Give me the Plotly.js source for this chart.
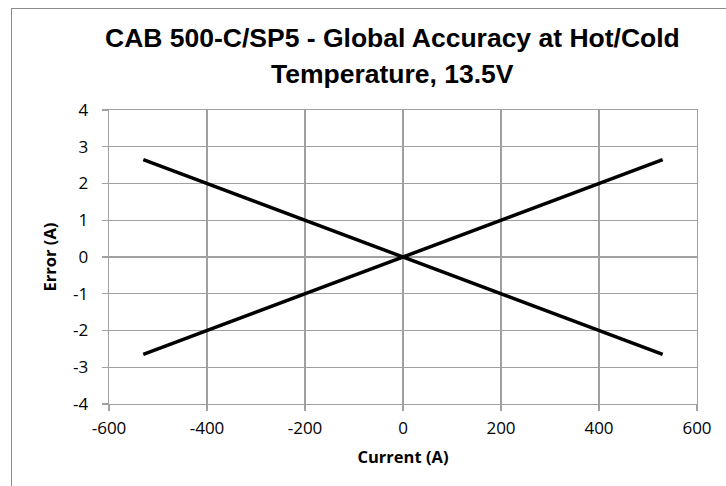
<!DOCTYPE html>
<html>
<head>
<meta charset="utf-8">
<script src="https://cdn.plot.ly/plotly-3.0.1.min.js"></script>
<style>
  html, body { margin: 0; padding: 0; background: #fff; }
  #wrap { position: relative; width: 726px; height: 486px; overflow: hidden; }
  #frame { position: absolute; left: 11px; top: 8px; width: 730px; height: 490px; border: 1px solid #8c8c8c; box-sizing: border-box; pointer-events: none; z-index: 5; }
  #chart { position: absolute; left: 0; top: 0; width: 726px; height: 486px; }
</style>
</head>
<body>
<div id="wrap">
  <div id="chart"></div>
  <div id="frame"></div>
</div>
<script>
// Data
const current = [-530, -400, -200, 0, 200, 400, 530];
const errorRising = [-2.65, -2, -1, 0, 1, 2, 2.65];
const errorFalling = [2.65, 2, 1, 0, -1, -2, -2.65];
const xTicks = [-600, -400, -200, 0, 200, 400, 600];
const yTicks = [-4, -3, -2, -1, 0, 1, 2, 3, 4];
const titleLine1 = "CAB 500-C/SP5 - Global Accuracy at Hot/Cold";
const titleLine2 = "Temperature, 13.5V";
const xTitle = "Current (A)";
const yTitle = "Error (A)";

const lineStyle = { color: "#000000", width: 3.5 };

const traces = [
  { x: current, y: errorRising, type: "scatter", mode: "lines", line: lineStyle, showlegend: false, hoverinfo: "skip" },
  { x: current, y: errorFalling, type: "scatter", mode: "lines", line: lineStyle, showlegend: false, hoverinfo: "skip" }
];

const gridColor = "#a0a0a0";
const tickFont = { family: "Open Sans, DejaVu Sans, sans-serif", size: 17, color: "#000000" };
const axisTitleFont = { family: "Open Sans, DejaVu Sans, sans-serif", size: 16.5, color: "#000000", weight: 700 };
const titleFont = { family: "Liberation Sans, Arial, sans-serif", size: 26.5, color: "#000000", weight: 700 };

const layout = {
  width: 726,
  height: 486,
  margin: { l: 109, r: 29, t: 110, b: 82, pad: 0 },
  paper_bgcolor: "#ffffff",
  plot_bgcolor: "#ffffff",
  showlegend: false,
  xaxis: {
    range: [-600, 600],
    tickvals: xTicks,
    ticktext: xTicks.map(String),
    showgrid: true,
    gridcolor: gridColor,
    gridwidth: 1.3,
    zeroline: false,
    showline: true,
    linecolor: gridColor,
    linewidth: 1.3,
    mirror: true,
    ticks: "outside",
    ticklen: 6,
    tickcolor: gridColor,
    tickwidth: 1.3,
    ticklabelstandoff: 2,
    tickfont: tickFont,
    title: { text: xTitle, font: axisTitleFont, standoff: 13 },
    fixedrange: true
  },
  yaxis: {
    range: [-4, 4],
    tickvals: yTicks,
    ticktext: yTicks.map(String),
    showgrid: true,
    gridcolor: gridColor,
    gridwidth: 1.3,
    zeroline: false,
    showline: true,
    linecolor: gridColor,
    linewidth: 1.3,
    mirror: true,
    ticks: "outside",
    ticklen: 6,
    tickcolor: gridColor,
    tickwidth: 1.3,
    ticklabelstandoff: 10,
    tickfont: tickFont,
    title: { text: yTitle, font: axisTitleFont, standoff: 12 },
    fixedrange: true
  },
  annotations: [
    { text: "<b>" + titleLine1 + "</b>", xref: "paper", yref: "paper", x: (392 - 109) / 588, y: 1 + (110 - 37.5) / 294,
      xanchor: "center", yanchor: "middle", showarrow: false, font: titleFont },
    { text: "<b>" + titleLine2 + "</b>", xref: "paper", yref: "paper", x: (392 - 109) / 588, y: 1 + (110 - 74) / 294,
      xanchor: "center", yanchor: "middle", showarrow: false, font: titleFont }
  ]
};

Plotly.newPlot("chart", traces, layout, { staticPlot: true, displayModeBar: false });
</script>
</body>
</html>
